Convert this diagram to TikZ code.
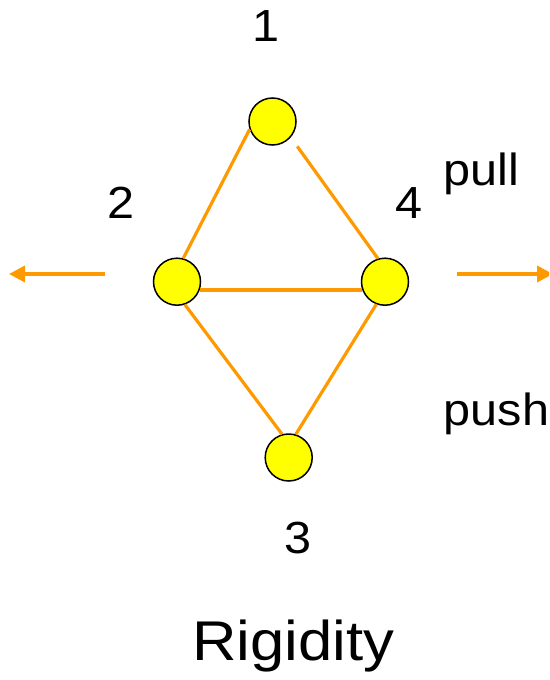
\documentclass[tikz,border=0pt]{standalone}
\usepackage{fontspec}
\setmainfont{Liberation Sans}
\newfontfamily\lblfont[FakeStretch=1.08]{Liberation Sans}
\newfontfamily\ttlfont[FakeStretch=1.1]{Liberation Sans}
\usetikzlibrary{arrows.meta}
\definecolor{edgeor}{HTML}{FF9900}
\definecolor{nodey}{HTML}{FFFF00}
\tikzset{
  joint/.style={circle,draw=black,fill=nodey,line width=1.5pt,inner sep=0pt,minimum size=47pt},
  bar/.style={draw=edgeor,line width=3.2pt},
  force/.style={draw=edgeor,line width=3.6pt,-{Triangle[length=16pt,width=16pt]}},
  lbl/.style={inner sep=0pt,font=\lblfont\fontsize{45}{50}\selectfont},
}
\begin{document}
\begin{tikzpicture}[x=1pt,y=-1pt]
\useasboundingbox (0,0) rectangle (549,680);
\clip (0,0) rectangle (549,680);
\node[joint] (n1) at (272.5,121.5) {};
\node[joint] (n2) at (177,281.7) {};
\node[joint] (n4) at (385,281.7) {};
\node[joint] (n3) at (288.7,457.5) {};
\draw[bar] (n1.199) -- (n2.75.5);
\draw[bar,shorten <=11pt] (n1.-41) -- (n4.107.5);
\draw[bar] (n2.-20) -- (n4.200);
\draw[bar] (n2.-71) -- (n3.106.6);
\draw[bar] (n4.249) -- (n3.73);
\coordinate (ls) at (105,274);
\coordinate (le) at (9,274);
\coordinate (rs) at (457,274);
\coordinate (re) at (553,274);
\draw[force] (ls) -- (le);
\draw[force] (rs) -- (re);
\node[lbl,anchor=base] (t1) at (266,41.7) {1};
\node[lbl,anchor=base] (t2) at (121.3,218.3) {2};
\node[lbl,anchor=base] (t4) at (409,218.3) {4};
\node[lbl,anchor=base] (t3) at (297.7,553.3) {3};
\node[lbl,anchor=base west] (tpull) at (443,185) {pull};
\node[lbl,anchor=base west] (tpush) at (443.5,425) {push};
\node[inner sep=0pt,anchor=base,font=\ttlfont\fontsize{56}{60}\selectfont] (title) at (293.3,660) {Rigidity};
\end{tikzpicture}
\end{document}
